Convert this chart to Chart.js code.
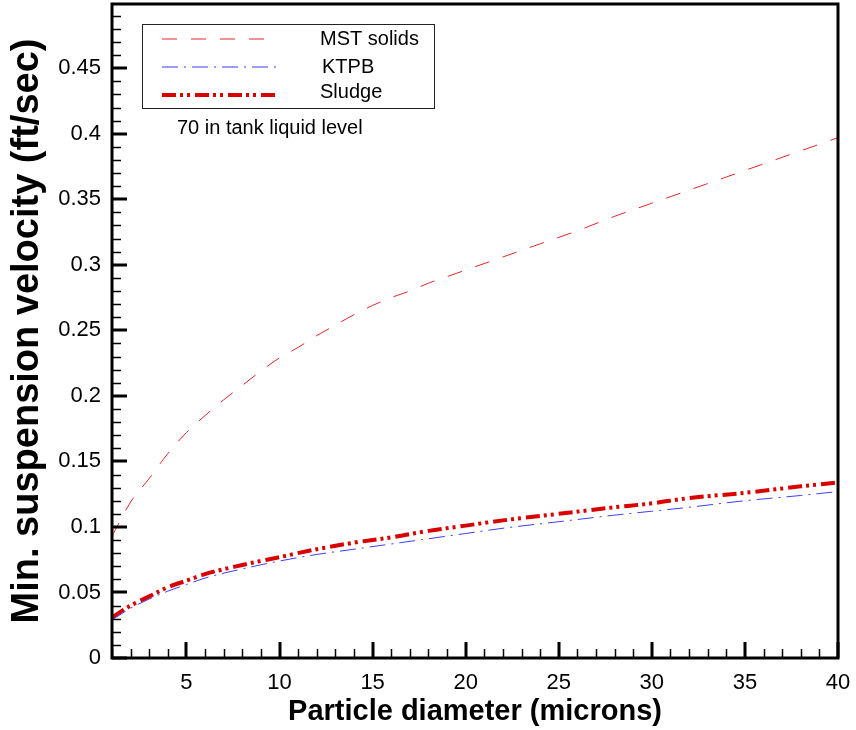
<!DOCTYPE html>
<html>
<head>
<meta charset="utf-8">
<script src="https://cdn.jsdelivr.net/npm/chart.js@4.4.1/dist/chart.umd.min.js"></script>
<style>
html,body{margin:0;padding:0;background:#fff;}
#wrap{width:856px;height:730px;}
</style>
</head>
<body>
<div id="wrap"><canvas id="c" width="856" height="730"></canvas></div>
<script>
// ---- data ----
const mstX   = [1, 2, 3, 4, 5, 6, 7, 8, 9, 10, 11, 12, 13, 14, 15, 16, 17, 18, 19, 20, 22, 24, 26, 28, 30, 32, 34, 36, 38, 40];
const mstY   = [0.093, 0.119, 0.137, 0.156, 0.172, 0.185, 0.197, 0.208, 0.219, 0.229, 0.237, 0.246, 0.254, 0.262, 0.269, 0.275, 0.280, 0.286, 0.291, 0.296, 0.306, 0.316, 0.326, 0.337, 0.347, 0.357, 0.367, 0.377, 0.387, 0.397];
const lowX   = [1, 2, 3, 4, 5, 6, 8, 10, 12, 14, 16, 18, 20, 22, 25, 28, 30, 32, 35, 38, 40];
const ktpbY  = [0.029, 0.038, 0.045, 0.051, 0.056, 0.061, 0.068, 0.074, 0.079, 0.083, 0.087, 0.091, 0.095, 0.099, 0.104, 0.109, 0.112, 0.115, 0.120, 0.124, 0.127];
const sludgeY= [0.031, 0.040, 0.047, 0.054, 0.059, 0.064, 0.071, 0.077, 0.083, 0.088, 0.092, 0.097, 0.101, 0.105, 0.110, 0.115, 0.118, 0.122, 0.126, 0.131, 0.134];
const seriesNames = ['MST solids', 'KTPB', 'Sludge'];
const xTicks = [5, 10, 15, 20, 25, 30, 35, 40];
const xTickLabels = ['5', '10', '15', '20', '25', '30', '35', '40'];
const yTicks = [0, 0.05, 0.1, 0.15, 0.2, 0.25, 0.3, 0.35, 0.4, 0.45];
const yTickLabels = ['0', '0.05', '0.1', '0.15', '0.2', '0.25', '0.3', '0.35', '0.4', '0.45'];
const xTitle = 'Particle diameter (microns)';
const yTitle = 'Min. suspension velocity (ft/sec)';
const noteText = '70 in tank liquid level';
const xRange = [1, 40];
const yRange = [0, 0.499];
const xMinorStep = 1;
const yMinorStep = 0.01;

const COL_MST = '#e3262b';
const COL_KTPB = '#3d3dff';
const COL_SLUDGE = '#d90000';
const FONT = '"Liberation Sans", Arial, sans-serif';

function pts(xs, ys){ return xs.map((x,i)=>({x:x, y:ys[i]})); }

const dashMST = [15, 14];
const dashKTPB = [16, 6, 2, 6];
const dashSludge = [14, 4, 3, 4, 3, 5];

const decor = {
  id: 'decor',
  afterDatasetsDraw(chart){
    const ctx = chart.ctx;
    const a = chart.chartArea;
    const xs = chart.scales.x, ys = chart.scales.y;
    ctx.save();
    ctx.strokeStyle = '#000';
    // minor ticks
    ctx.lineWidth = 1.5;
    ctx.beginPath();
    for(let v = Math.ceil(xRange[0]); v <= xRange[1] + 1e-9; v += xMinorStep){
      if (xTicks.indexOf(v) >= 0) continue;
      const p = Math.round(xs.getPixelForValue(v)) + 0.5;
      ctx.moveTo(p, a.bottom); ctx.lineTo(p, a.bottom - 9);
    }
    for(let k = 0; k * yMinorStep <= yRange[1] + 1e-9; k++){
      const v = k * yMinorStep;
      if (yTicks.some(t => Math.abs(t - v) < 1e-9)) continue;
      const p = Math.round(ys.getPixelForValue(v)) + 0.5;
      ctx.moveTo(a.left, p); ctx.lineTo(a.left + 9, p);
    }
    ctx.stroke();
    // major ticks
    ctx.lineWidth = 3;
    ctx.beginPath();
    xTicks.forEach(v => {
      const p = Math.round(xs.getPixelForValue(v));
      ctx.moveTo(p, a.bottom); ctx.lineTo(p, a.bottom - 16);
    });
    yTicks.forEach(v => {
      const p = Math.round(ys.getPixelForValue(v));
      ctx.moveTo(a.left, p); ctx.lineTo(a.left + 15, p);
    });
    ctx.stroke();
    // frame
    ctx.lineWidth = 3;
    ctx.strokeRect(a.left, a.top, a.right - a.left, a.bottom - a.top);

    // legend box
    ctx.lineWidth = 1;
    ctx.strokeStyle = '#222';
    ctx.strokeRect(142.5, 24.5, 292, 84);
    const rows = [
      {y: 39, text: seriesNames[0], tx: 320, color: COL_MST, w: 1.2, dash: dashMST},
      {y: 67, text: seriesNames[1], tx: 322, color: COL_KTPB, w: 1.2, dash: dashKTPB},
      {y: 95, text: seriesNames[2], tx: 320, color: COL_SLUDGE, w: 4, dash: dashSludge}
    ];
    ctx.font = '20px ' + FONT;
    ctx.textBaseline = 'middle';
    ctx.textAlign = 'left';
    rows.forEach((r, i) => {
      ctx.save();
      ctx.strokeStyle = r.color;
      ctx.lineWidth = r.w;
      ctx.setLineDash(r.dash);
      ctx.beginPath();
      ctx.moveTo(162, r.y); ctx.lineTo(277, r.y);
      ctx.stroke();
      ctx.restore();
      ctx.fillStyle = '#000';
      ctx.fillText(r.text, r.tx, r.y - (i===2?3:0));
    });
    ctx.fillText(noteText, 177, 128);
    ctx.restore();
  }
};

new Chart(document.getElementById('c'), {
  type: 'line',
  data: {
    datasets: [
      {label: seriesNames[0], data: pts(mstX, mstY), borderColor: COL_MST, borderWidth: 1, borderDash: dashMST, pointRadius: 0, fill: false, cubicInterpolationMode: 'monotone'},
      {label: seriesNames[1], data: pts(lowX, ktpbY), borderColor: COL_KTPB, borderWidth: 1, borderDash: dashKTPB, pointRadius: 0, fill: false, cubicInterpolationMode: 'monotone'},
      {label: seriesNames[2], data: pts(lowX, sludgeY), borderColor: COL_SLUDGE, borderWidth: 4, borderDash: dashSludge, pointRadius: 0, fill: false, cubicInterpolationMode: 'monotone'}
    ]
  },
  options: {
    responsive: false,
    animation: false,
    devicePixelRatio: 1,
    layout: {padding: {left: 0, right: 18, top: 4, bottom: 0}},
    plugins: {legend: {display: false}, tooltip: {enabled: false}},
    scales: {
      x: {
        type: 'linear', min: xRange[0], max: xRange[1],
        grid: {display: false, drawTicks: false},
        border: {display: false},
        afterBuildTicks: s => { s.ticks = xTicks.map(v => ({value: v})); },
        afterFit: s => { s.height = 72; s.paddingLeft = 0; s.paddingRight = 0; },
        ticks: {
          padding: 12, color: '#000', maxRotation: 0, autoSkip: false,
          font: {family: FONT, size: 22},
          callback: (v) => { const i = xTicks.indexOf(v); return i >= 0 ? xTickLabels[i] : ''; }
        },
        title: {display: true, text: xTitle, color: '#000', font: {family: FONT, size: 29, weight: 'bold'}, padding: {top: 0, bottom: 1}}
      },
      y: {
        type: 'linear', min: yRange[0], max: yRange[1],
        grid: {display: false, drawTicks: false},
        border: {display: false},
        afterBuildTicks: s => { s.ticks = yTicks.map(v => ({value: v})); },
        afterFit: s => { s.width = 112; s.paddingTop = 0; s.paddingBottom = 0; },
        ticks: {
          padding: 11, color: '#000', autoSkip: false,
          font: {family: FONT, size: 22},
          callback: (v) => { const i = yTicks.findIndex(t => Math.abs(t - v) < 1e-9); return i >= 0 ? yTickLabels[i] : ''; }
        },
        title: {display: true, text: yTitle, color: '#000', font: {family: FONT, size: 38, weight: 'bold'}, padding: {top: 5, bottom: 0}}
      }
    }
  },
  plugins: [decor]
});
</script>
</body>
</html>
